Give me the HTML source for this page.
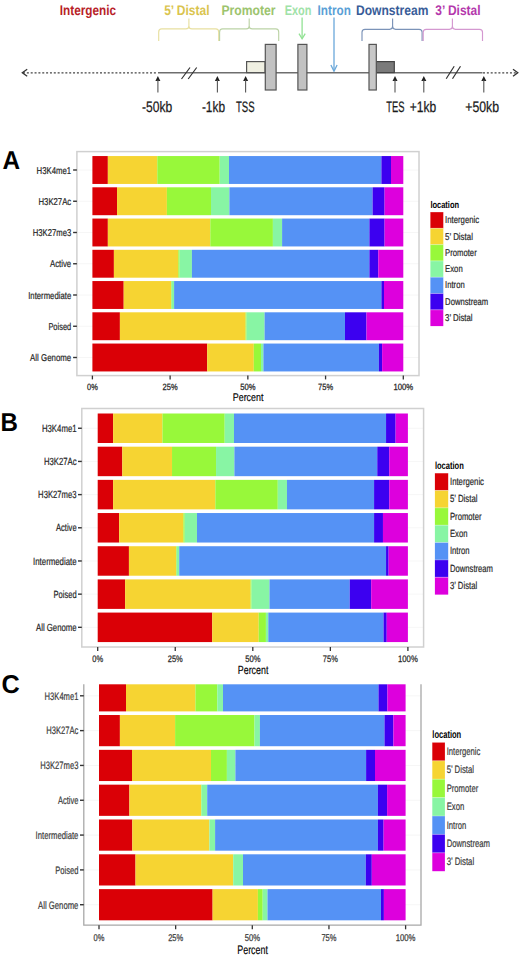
<!DOCTYPE html>
<html><head><meta charset="utf-8"><title>Genomic location distribution</title>
<style>
html,body{margin:0;padding:0;background:#fff;width:520px;height:956px;overflow:hidden;}
svg{display:block;font-family:"Liberation Sans", sans-serif;text-rendering:geometricPrecision;}
</style></head>
<body>
<svg width="520" height="956" viewBox="0 0 520 956">
<rect width="520" height="956" fill="#fff"/>
<text x="59.75" y="14.9" font-size="14" text-anchor="start" fill="#B81E28" font-weight="bold" textLength="56.25" lengthAdjust="spacingAndGlyphs">Intergenic</text>
<text x="164.2" y="14.9" font-size="14" text-anchor="start" fill="#DAC44E" font-weight="bold" textLength="45.3" lengthAdjust="spacingAndGlyphs">5&#8217; Distal</text>
<text x="221.5" y="14.9" font-size="14" text-anchor="start" fill="#9CC46E" font-weight="bold" textLength="54" lengthAdjust="spacingAndGlyphs">Promoter</text>
<text x="284.7" y="14.9" font-size="14" text-anchor="start" fill="#A0E2A8" font-weight="bold" textLength="26.8" lengthAdjust="spacingAndGlyphs">Exon</text>
<text x="317.6" y="14.9" font-size="14" text-anchor="start" fill="#5A9FD6" font-weight="bold" textLength="33.2" lengthAdjust="spacingAndGlyphs">Intron</text>
<text x="356" y="14.9" font-size="14" text-anchor="start" fill="#385C98" font-weight="bold" textLength="72.4" lengthAdjust="spacingAndGlyphs">Downstream</text>
<text x="435.3" y="14.9" font-size="14" text-anchor="start" fill="#B438AC" font-weight="bold" textLength="45.3" lengthAdjust="spacingAndGlyphs">3&#8217; Distal</text>
<path d="M158.7 41V31.9Q158.7 28.9 161.7 28.9H185.9Q188.9 28.9 188.9 25.9V18.5M188.9 25.9Q188.9 28.9 191.9 28.9H215.7Q218.7 28.9 218.7 31.9V41" fill="none" stroke="#E8E0A0" stroke-width="1.15"/>
<path d="M219.6 41V31.9Q219.6 28.9 222.6 28.9H246.2Q249.2 28.9 249.2 25.9V18.5M249.2 25.9Q249.2 28.9 252.2 28.9H275.7Q278.7 28.9 278.7 31.9V41" fill="none" stroke="#BCD3A6" stroke-width="1.15"/>
<path d="M362 41V32.3Q362 29.3 365 29.3H389.6Q392.6 29.3 392.6 26.3V18.5M392.6 26.3Q392.6 29.3 395.6 29.3H419.1Q422.1 29.3 422.1 32.3V41" fill="none" stroke="#7B93B8" stroke-width="1.15"/>
<path d="M423.2 41V32.3Q423.2 29.3 426.2 29.3H449.4Q452.4 29.3 452.4 26.3V18.5M452.4 26.3Q452.4 29.3 455.4 29.3H479.5Q482.5 29.3 482.5 32.3V41" fill="none" stroke="#D498D0" stroke-width="1.15"/>
<line x1="302.1" y1="17.5" x2="302.1" y2="38.5" stroke="#92E294" stroke-width="1.3"/>
<path d="M299 33.6L302.1 38.8L305.2 33.6" fill="none" stroke="#92E294" stroke-width="1.3"/>
<line x1="334" y1="17.5" x2="334" y2="71" stroke="#6AA8DA" stroke-width="1.3"/>
<path d="M330.9 65L334 71.3L337.1 65" fill="none" stroke="#6AA8DA" stroke-width="1.3"/>
<line x1="23" y1="72.8" x2="157" y2="72.8" stroke="#444" stroke-width="1.3" stroke-dasharray="2 1.85"/>
<path d="M27.2 69.3L22.3 72.8L27.2 76.3" fill="none" stroke="#333" stroke-width="1.3"/>
<line x1="483" y1="72.8" x2="516.5" y2="72.8" stroke="#444" stroke-width="1.3" stroke-dasharray="2 1.85"/>
<path d="M513 69.3L517.8 72.8L513 76.3" fill="none" stroke="#333" stroke-width="1.3"/>
<line x1="158" y1="72.7" x2="482.5" y2="72.7" stroke="#6E6E6E" stroke-width="1.4"/>
<path d="M181.5 79L190 67.5M188.2 79L196.7 67.5" stroke="#333" stroke-width="1.2" fill="none"/>
<path d="M446.2 78.8L454.2 66.2M452.5 78.8L460.5 66.2" stroke="#333" stroke-width="1.2" fill="none"/>
<rect x="246.6" y="61.6" width="18.4" height="11" fill="#F0F0E2" stroke="#555" stroke-width="1.2"/>
<rect x="265.3" y="44.4" width="10.8" height="45.6" fill="#C2C2C2" stroke="#555" stroke-width="1.2"/>
<rect x="297.9" y="44.4" width="9" height="45.6" fill="#C2C2C2" stroke="#555" stroke-width="1.2"/>
<rect x="376.3" y="61.6" width="18" height="11" fill="#7A7A7A" stroke="#444" stroke-width="1.2"/>
<rect x="369" y="44.4" width="7.3" height="45.6" fill="#C8C8C8" stroke="#555" stroke-width="1.2"/>
<path d="M157.9 76.1L155.4 80.9H160.4Z" fill="#222"/><line x1="157.9" y1="80" x2="157.9" y2="92.6" stroke="#555" stroke-width="1.1"/>
<path d="M217.4 76.1L214.9 80.9H219.9Z" fill="#222"/><line x1="217.4" y1="80" x2="217.4" y2="92.6" stroke="#555" stroke-width="1.1"/>
<path d="M245.6 76.1L243.1 80.9H248.1Z" fill="#222"/><line x1="245.6" y1="80" x2="245.6" y2="92.6" stroke="#555" stroke-width="1.1"/>
<path d="M395 76.1L392.5 80.9H397.5Z" fill="#222"/><line x1="395" y1="80" x2="395" y2="92.6" stroke="#555" stroke-width="1.1"/>
<path d="M423.8 76.1L421.3 80.9H426.3Z" fill="#222"/><line x1="423.8" y1="80" x2="423.8" y2="92.6" stroke="#555" stroke-width="1.1"/>
<path d="M483.8 76.1L481.3 80.9H486.3Z" fill="#222"/><line x1="483.8" y1="80" x2="483.8" y2="92.6" stroke="#555" stroke-width="1.1"/>
<text x="142" y="111.7" font-size="15.2" text-anchor="start" fill="#1a1a1a" stroke="#1a1a1a" stroke-width="0.25" textLength="30.2" lengthAdjust="spacingAndGlyphs">-50kb</text>
<text x="201.9" y="111.7" font-size="15.2" text-anchor="start" fill="#1a1a1a" stroke="#1a1a1a" stroke-width="0.25" textLength="23.1" lengthAdjust="spacingAndGlyphs">-1kb</text>
<text x="236" y="111.7" font-size="15.2" text-anchor="start" fill="#1a1a1a" stroke="#1a1a1a" stroke-width="0.25" textLength="18.6" lengthAdjust="spacingAndGlyphs">TSS</text>
<text x="386.2" y="111.7" font-size="15.2" text-anchor="start" fill="#1a1a1a" stroke="#1a1a1a" stroke-width="0.25" textLength="18.3" lengthAdjust="spacingAndGlyphs">TES</text>
<text x="409.8" y="111.7" font-size="15.2" text-anchor="start" fill="#1a1a1a" stroke="#1a1a1a" stroke-width="0.25" textLength="26.4" lengthAdjust="spacingAndGlyphs">+1kb</text>
<text x="465.3" y="111.7" font-size="15.2" text-anchor="start" fill="#1a1a1a" stroke="#1a1a1a" stroke-width="0.25" textLength="33.8" lengthAdjust="spacingAndGlyphs">+50kb</text>
<rect x="76.9" y="151.6" width="342.1" height="224" fill="#fff"/>
<line x1="76.9" y1="170" x2="419" y2="170" stroke="#f4f4f4" stroke-width="0.8"/>
<line x1="76.9" y1="201.25" x2="419" y2="201.25" stroke="#f4f4f4" stroke-width="0.8"/>
<line x1="76.9" y1="232.5" x2="419" y2="232.5" stroke="#f4f4f4" stroke-width="0.8"/>
<line x1="76.9" y1="263.75" x2="419" y2="263.75" stroke="#f4f4f4" stroke-width="0.8"/>
<line x1="76.9" y1="295" x2="419" y2="295" stroke="#f4f4f4" stroke-width="0.8"/>
<line x1="76.9" y1="326.25" x2="419" y2="326.25" stroke="#f4f4f4" stroke-width="0.8"/>
<line x1="76.9" y1="357.5" x2="419" y2="357.5" stroke="#f4f4f4" stroke-width="0.8"/>
<rect x="92.4" y="156.05" width="15.45" height="27.9" fill="#DA0006"/>
<rect x="107.85" y="156.05" width="49.45" height="27.9" fill="#F6D432"/>
<rect x="157.3" y="156.05" width="62.4" height="27.9" fill="#98F83A"/>
<rect x="219.7" y="156.05" width="9.3" height="27.9" fill="#88F5A4"/>
<rect x="229" y="156.05" width="152.4" height="27.9" fill="#5592F5"/>
<rect x="381.4" y="156.05" width="9.6" height="27.9" fill="#3C00F0"/>
<rect x="391" y="156.05" width="12.3" height="27.9" fill="#DD00DD"/>
<rect x="92.4" y="187.3" width="24.65" height="27.9" fill="#DA0006"/>
<rect x="117.05" y="187.3" width="49.85" height="27.9" fill="#F6D432"/>
<rect x="166.9" y="187.3" width="44.1" height="27.9" fill="#98F83A"/>
<rect x="211" y="187.3" width="18.4" height="27.9" fill="#88F5A4"/>
<rect x="229.4" y="187.3" width="143.2" height="27.9" fill="#5592F5"/>
<rect x="372.6" y="187.3" width="12" height="27.9" fill="#3C00F0"/>
<rect x="384.6" y="187.3" width="18.7" height="27.9" fill="#DD00DD"/>
<rect x="92.4" y="218.55" width="15.45" height="27.9" fill="#DA0006"/>
<rect x="107.85" y="218.55" width="102.45" height="27.9" fill="#F6D432"/>
<rect x="210.3" y="218.55" width="62.6" height="27.9" fill="#98F83A"/>
<rect x="272.9" y="218.55" width="9.2" height="27.9" fill="#88F5A4"/>
<rect x="282.1" y="218.55" width="87.3" height="27.9" fill="#5592F5"/>
<rect x="369.4" y="218.55" width="15.2" height="27.9" fill="#3C00F0"/>
<rect x="384.6" y="218.55" width="18.7" height="27.9" fill="#DD00DD"/>
<rect x="92.4" y="249.8" width="21.5" height="27.9" fill="#DA0006"/>
<rect x="113.9" y="249.8" width="64.4" height="27.9" fill="#F6D432"/>
<rect x="178.3" y="249.8" width="1.3" height="27.9" fill="#98F83A"/>
<rect x="179.6" y="249.8" width="12.3" height="27.9" fill="#88F5A4"/>
<rect x="191.9" y="249.8" width="177.5" height="27.9" fill="#5592F5"/>
<rect x="369.4" y="249.8" width="8.9" height="27.9" fill="#3C00F0"/>
<rect x="378.3" y="249.8" width="25" height="27.9" fill="#DD00DD"/>
<rect x="92.4" y="281.05" width="31.3" height="27.9" fill="#DA0006"/>
<rect x="123.7" y="281.05" width="47.3" height="27.9" fill="#F6D432"/>
<rect x="171" y="281.05" width="0.6" height="27.9" fill="#98F83A"/>
<rect x="171.6" y="281.05" width="2.5" height="27.9" fill="#88F5A4"/>
<rect x="174.1" y="281.05" width="207.3" height="27.9" fill="#5592F5"/>
<rect x="381.4" y="281.05" width="2.6" height="27.9" fill="#3C00F0"/>
<rect x="384" y="281.05" width="19.3" height="27.9" fill="#DD00DD"/>
<rect x="92.4" y="312.3" width="27.5" height="27.9" fill="#DA0006"/>
<rect x="119.9" y="312.3" width="125.7" height="27.9" fill="#F6D432"/>
<rect x="245.6" y="312.3" width="1" height="27.9" fill="#98F83A"/>
<rect x="246.6" y="312.3" width="18" height="27.9" fill="#88F5A4"/>
<rect x="264.6" y="312.3" width="80.4" height="27.9" fill="#5592F5"/>
<rect x="345" y="312.3" width="21.5" height="27.9" fill="#3C00F0"/>
<rect x="366.5" y="312.3" width="36.8" height="27.9" fill="#DD00DD"/>
<rect x="92.4" y="343.55" width="114.8" height="27.9" fill="#DA0006"/>
<rect x="207.2" y="343.55" width="46.6" height="27.9" fill="#F6D432"/>
<rect x="253.8" y="343.55" width="7.2" height="27.9" fill="#98F83A"/>
<rect x="261" y="343.55" width="2.4" height="27.9" fill="#88F5A4"/>
<rect x="263.4" y="343.55" width="115.5" height="27.9" fill="#5592F5"/>
<rect x="378.9" y="343.55" width="3.2" height="27.9" fill="#3C00F0"/>
<rect x="382.1" y="343.55" width="21.2" height="27.9" fill="#DD00DD"/>
<rect x="76.9" y="151.6" width="342.1" height="224" fill="none" stroke="#d0d0d0" stroke-width="1.5"/>
<line x1="73.1" y1="170" x2="76.9" y2="170" stroke="#333" stroke-width="1.4"/>
<text x="36.6" y="173.5" font-size="9.9" text-anchor="start" fill="#262626" stroke="#262626" stroke-width="0.2" textLength="34.6" lengthAdjust="spacingAndGlyphs">H3K4me1</text>
<line x1="73.1" y1="201.25" x2="76.9" y2="201.25" stroke="#333" stroke-width="1.4"/>
<text x="38.5" y="204.75" font-size="9.9" text-anchor="start" fill="#262626" stroke="#262626" stroke-width="0.2" textLength="32.7" lengthAdjust="spacingAndGlyphs">H3K27Ac</text>
<line x1="73.1" y1="232.5" x2="76.9" y2="232.5" stroke="#333" stroke-width="1.4"/>
<text x="32.8" y="236" font-size="9.9" text-anchor="start" fill="#262626" stroke="#262626" stroke-width="0.2" textLength="38.4" lengthAdjust="spacingAndGlyphs">H3K27me3</text>
<line x1="73.1" y1="263.75" x2="76.9" y2="263.75" stroke="#333" stroke-width="1.4"/>
<text x="50" y="267.25" font-size="9.9" text-anchor="start" fill="#262626" stroke="#262626" stroke-width="0.2" textLength="21.2" lengthAdjust="spacingAndGlyphs">Active</text>
<line x1="73.1" y1="295" x2="76.9" y2="295" stroke="#333" stroke-width="1.4"/>
<text x="28.2" y="298.5" font-size="9.9" text-anchor="start" fill="#262626" stroke="#262626" stroke-width="0.2" textLength="43" lengthAdjust="spacingAndGlyphs">Intermediate</text>
<line x1="73.1" y1="326.25" x2="76.9" y2="326.25" stroke="#333" stroke-width="1.4"/>
<text x="48.4" y="329.75" font-size="9.9" text-anchor="start" fill="#262626" stroke="#262626" stroke-width="0.2" textLength="22.8" lengthAdjust="spacingAndGlyphs">Poised</text>
<line x1="73.1" y1="357.5" x2="76.9" y2="357.5" stroke="#333" stroke-width="1.4"/>
<text x="30.1" y="361" font-size="9.9" text-anchor="start" fill="#262626" stroke="#262626" stroke-width="0.2" textLength="41.1" lengthAdjust="spacingAndGlyphs">All Genome</text>
<line x1="92.4" y1="375.6" x2="92.4" y2="379.4" stroke="#333" stroke-width="1.3"/>
<text x="87" y="390.3" font-size="9" text-anchor="start" fill="#262626" stroke="#262626" stroke-width="0.25" textLength="10.8" lengthAdjust="spacingAndGlyphs">0%</text>
<line x1="170.12" y1="375.6" x2="170.12" y2="379.4" stroke="#333" stroke-width="1.3"/>
<text x="162.62" y="390.3" font-size="9" text-anchor="start" fill="#262626" stroke="#262626" stroke-width="0.25" textLength="15" lengthAdjust="spacingAndGlyphs">25%</text>
<line x1="247.85" y1="375.6" x2="247.85" y2="379.4" stroke="#333" stroke-width="1.3"/>
<text x="240.2" y="390.3" font-size="9" text-anchor="start" fill="#262626" stroke="#262626" stroke-width="0.25" textLength="15.3" lengthAdjust="spacingAndGlyphs">50%</text>
<line x1="325.57" y1="375.6" x2="325.57" y2="379.4" stroke="#333" stroke-width="1.3"/>
<text x="318.07" y="390.3" font-size="9" text-anchor="start" fill="#262626" stroke="#262626" stroke-width="0.25" textLength="15" lengthAdjust="spacingAndGlyphs">75%</text>
<line x1="403.3" y1="375.6" x2="403.3" y2="379.4" stroke="#333" stroke-width="1.3"/>
<text x="393.4" y="390.3" font-size="9" text-anchor="start" fill="#262626" stroke="#262626" stroke-width="0.25" textLength="19.8" lengthAdjust="spacingAndGlyphs">100%</text>
<text x="232.8" y="401.2" font-size="11.2" text-anchor="start" fill="#000" stroke="#000" stroke-width="0.15" textLength="30.6" lengthAdjust="spacingAndGlyphs">Percent</text>
<text x="430.4" y="208" font-size="9.8" text-anchor="start" fill="#000" font-weight="bold" textLength="28.7" lengthAdjust="spacingAndGlyphs">location</text>
<rect x="430.4" y="212" width="12.9" height="16.3" fill="#DA0006"/>
<rect x="430.4" y="228.3" width="12.9" height="16.3" fill="#F6D432"/>
<rect x="430.4" y="244.6" width="12.9" height="16.3" fill="#98F83A"/>
<rect x="430.4" y="260.9" width="12.9" height="16.3" fill="#88F5A4"/>
<rect x="430.4" y="277.2" width="12.9" height="16.3" fill="#5592F5"/>
<rect x="430.4" y="293.5" width="12.9" height="16.3" fill="#3C00F0"/>
<rect x="430.4" y="309.8" width="12.9" height="16.3" fill="#DD00DD"/>
<line x1="430.4" y1="212" x2="443.3" y2="212" stroke="#fff" stroke-width="0.5" stroke-opacity="0.6"/>
<text x="445.1" y="223.25" font-size="9.9" text-anchor="start" fill="#262626" stroke="#262626" stroke-width="0.2" textLength="34" lengthAdjust="spacingAndGlyphs">Intergenic</text>
<line x1="430.4" y1="228.3" x2="443.3" y2="228.3" stroke="#fff" stroke-width="0.5" stroke-opacity="0.6"/>
<text x="445.1" y="239.55" font-size="9.9" text-anchor="start" fill="#262626" stroke="#262626" stroke-width="0.2" textLength="27.8" lengthAdjust="spacingAndGlyphs">5&#8217; Distal</text>
<line x1="430.4" y1="244.6" x2="443.3" y2="244.6" stroke="#fff" stroke-width="0.5" stroke-opacity="0.6"/>
<text x="445.1" y="255.85" font-size="9.9" text-anchor="start" fill="#262626" stroke="#262626" stroke-width="0.2" textLength="31.6" lengthAdjust="spacingAndGlyphs">Promoter</text>
<line x1="430.4" y1="260.9" x2="443.3" y2="260.9" stroke="#fff" stroke-width="0.5" stroke-opacity="0.6"/>
<text x="445.1" y="272.15" font-size="9.9" text-anchor="start" fill="#262626" stroke="#262626" stroke-width="0.2" textLength="17.6" lengthAdjust="spacingAndGlyphs">Exon</text>
<line x1="430.4" y1="277.2" x2="443.3" y2="277.2" stroke="#fff" stroke-width="0.5" stroke-opacity="0.6"/>
<text x="445.1" y="288.45" font-size="9.9" text-anchor="start" fill="#262626" stroke="#262626" stroke-width="0.2" textLength="19.6" lengthAdjust="spacingAndGlyphs">Intron</text>
<line x1="430.4" y1="293.5" x2="443.3" y2="293.5" stroke="#fff" stroke-width="0.5" stroke-opacity="0.6"/>
<text x="445.1" y="304.75" font-size="9.9" text-anchor="start" fill="#262626" stroke="#262626" stroke-width="0.2" textLength="43" lengthAdjust="spacingAndGlyphs">Downstream</text>
<line x1="430.4" y1="309.8" x2="443.3" y2="309.8" stroke="#fff" stroke-width="0.5" stroke-opacity="0.6"/>
<text x="445.1" y="321.05" font-size="9.9" text-anchor="start" fill="#262626" stroke="#262626" stroke-width="0.2" textLength="27.5" lengthAdjust="spacingAndGlyphs">3&#8217; Distal</text>
<text x="2.4" y="168.8" font-size="25.8" text-anchor="start" fill="#000" font-weight="bold" textLength="17.6" lengthAdjust="spacingAndGlyphs">A</text>
<rect x="81.8" y="408.5" width="341.8" height="238.5" fill="#fff"/>
<line x1="81.8" y1="428.25" x2="423.6" y2="428.25" stroke="#f4f4f4" stroke-width="0.8"/>
<line x1="81.8" y1="461.43" x2="423.6" y2="461.43" stroke="#f4f4f4" stroke-width="0.8"/>
<line x1="81.8" y1="494.61" x2="423.6" y2="494.61" stroke="#f4f4f4" stroke-width="0.8"/>
<line x1="81.8" y1="527.79" x2="423.6" y2="527.79" stroke="#f4f4f4" stroke-width="0.8"/>
<line x1="81.8" y1="560.97" x2="423.6" y2="560.97" stroke="#f4f4f4" stroke-width="0.8"/>
<line x1="81.8" y1="594.15" x2="423.6" y2="594.15" stroke="#f4f4f4" stroke-width="0.8"/>
<line x1="81.8" y1="627.33" x2="423.6" y2="627.33" stroke="#f4f4f4" stroke-width="0.8"/>
<rect x="97.7" y="413.5" width="15.42" height="29.5" fill="#DA0006"/>
<rect x="113.12" y="413.5" width="49.34" height="29.5" fill="#F6D432"/>
<rect x="162.45" y="413.5" width="62.26" height="29.5" fill="#98F83A"/>
<rect x="224.71" y="413.5" width="9.28" height="29.5" fill="#88F5A4"/>
<rect x="233.99" y="413.5" width="152.06" height="29.5" fill="#5592F5"/>
<rect x="386.05" y="413.5" width="9.58" height="29.5" fill="#3C00F0"/>
<rect x="395.63" y="413.5" width="12.27" height="29.5" fill="#DD00DD"/>
<rect x="97.7" y="446.68" width="24.59" height="29.5" fill="#DA0006"/>
<rect x="122.29" y="446.68" width="49.74" height="29.5" fill="#F6D432"/>
<rect x="172.03" y="446.68" width="44" height="29.5" fill="#98F83A"/>
<rect x="216.03" y="446.68" width="18.36" height="29.5" fill="#88F5A4"/>
<rect x="234.39" y="446.68" width="142.88" height="29.5" fill="#5592F5"/>
<rect x="377.27" y="446.68" width="11.97" height="29.5" fill="#3C00F0"/>
<rect x="389.24" y="446.68" width="18.66" height="29.5" fill="#DD00DD"/>
<rect x="97.7" y="479.86" width="15.42" height="29.5" fill="#DA0006"/>
<rect x="113.12" y="479.86" width="102.22" height="29.5" fill="#F6D432"/>
<rect x="215.33" y="479.86" width="62.46" height="29.5" fill="#98F83A"/>
<rect x="277.79" y="479.86" width="9.18" height="29.5" fill="#88F5A4"/>
<rect x="286.97" y="479.86" width="87.1" height="29.5" fill="#5592F5"/>
<rect x="374.08" y="479.86" width="15.17" height="29.5" fill="#3C00F0"/>
<rect x="389.24" y="479.86" width="18.66" height="29.5" fill="#DD00DD"/>
<rect x="97.7" y="513.04" width="21.45" height="29.5" fill="#DA0006"/>
<rect x="119.15" y="513.04" width="64.26" height="29.5" fill="#F6D432"/>
<rect x="183.41" y="513.04" width="1.3" height="29.5" fill="#98F83A"/>
<rect x="184.7" y="513.04" width="12.27" height="29.5" fill="#88F5A4"/>
<rect x="196.98" y="513.04" width="177.1" height="29.5" fill="#5592F5"/>
<rect x="374.08" y="513.04" width="8.88" height="29.5" fill="#3C00F0"/>
<rect x="382.96" y="513.04" width="24.94" height="29.5" fill="#DD00DD"/>
<rect x="97.7" y="546.22" width="31.23" height="29.5" fill="#DA0006"/>
<rect x="128.93" y="546.22" width="47.19" height="29.5" fill="#F6D432"/>
<rect x="176.12" y="546.22" width="0.6" height="29.5" fill="#98F83A"/>
<rect x="176.72" y="546.22" width="2.49" height="29.5" fill="#88F5A4"/>
<rect x="179.22" y="546.22" width="206.83" height="29.5" fill="#5592F5"/>
<rect x="386.05" y="546.22" width="2.59" height="29.5" fill="#3C00F0"/>
<rect x="388.64" y="546.22" width="19.26" height="29.5" fill="#DD00DD"/>
<rect x="97.7" y="579.4" width="27.44" height="29.5" fill="#DA0006"/>
<rect x="125.14" y="579.4" width="125.42" height="29.5" fill="#F6D432"/>
<rect x="250.56" y="579.4" width="1" height="29.5" fill="#98F83A"/>
<rect x="251.55" y="579.4" width="17.96" height="29.5" fill="#88F5A4"/>
<rect x="269.51" y="579.4" width="80.22" height="29.5" fill="#5592F5"/>
<rect x="349.73" y="579.4" width="21.45" height="29.5" fill="#3C00F0"/>
<rect x="371.18" y="579.4" width="36.72" height="29.5" fill="#DD00DD"/>
<rect x="97.7" y="612.58" width="114.54" height="29.5" fill="#DA0006"/>
<rect x="212.24" y="612.58" width="46.5" height="29.5" fill="#F6D432"/>
<rect x="258.74" y="612.58" width="7.18" height="29.5" fill="#98F83A"/>
<rect x="265.92" y="612.58" width="2.39" height="29.5" fill="#88F5A4"/>
<rect x="268.31" y="612.58" width="115.24" height="29.5" fill="#5592F5"/>
<rect x="383.55" y="612.58" width="3.19" height="29.5" fill="#3C00F0"/>
<rect x="386.75" y="612.58" width="21.15" height="29.5" fill="#DD00DD"/>
<rect x="81.8" y="408.5" width="341.8" height="238.5" fill="none" stroke="#d0d0d0" stroke-width="1.5"/>
<line x1="78" y1="428.25" x2="81.8" y2="428.25" stroke="#333" stroke-width="1.4"/>
<text x="41.9" y="431.93" font-size="10.4" text-anchor="start" fill="#262626" stroke="#262626" stroke-width="0.2" textLength="34.7" lengthAdjust="spacingAndGlyphs">H3K4me1</text>
<line x1="78" y1="461.43" x2="81.8" y2="461.43" stroke="#333" stroke-width="1.4"/>
<text x="43.9" y="465.11" font-size="10.4" text-anchor="start" fill="#262626" stroke="#262626" stroke-width="0.2" textLength="32.7" lengthAdjust="spacingAndGlyphs">H3K27Ac</text>
<line x1="78" y1="494.61" x2="81.8" y2="494.61" stroke="#333" stroke-width="1.4"/>
<text x="38.1" y="498.29" font-size="10.4" text-anchor="start" fill="#262626" stroke="#262626" stroke-width="0.2" textLength="38.5" lengthAdjust="spacingAndGlyphs">H3K27me3</text>
<line x1="78" y1="527.79" x2="81.8" y2="527.79" stroke="#333" stroke-width="1.4"/>
<text x="56" y="531.46" font-size="10.4" text-anchor="start" fill="#262626" stroke="#262626" stroke-width="0.2" textLength="20.6" lengthAdjust="spacingAndGlyphs">Active</text>
<line x1="78" y1="560.97" x2="81.8" y2="560.97" stroke="#333" stroke-width="1.4"/>
<text x="33.1" y="564.64" font-size="10.4" text-anchor="start" fill="#262626" stroke="#262626" stroke-width="0.2" textLength="43.5" lengthAdjust="spacingAndGlyphs">Intermediate</text>
<line x1="78" y1="594.15" x2="81.8" y2="594.15" stroke="#333" stroke-width="1.4"/>
<text x="53.5" y="597.82" font-size="10.4" text-anchor="start" fill="#262626" stroke="#262626" stroke-width="0.2" textLength="23.1" lengthAdjust="spacingAndGlyphs">Poised</text>
<line x1="78" y1="627.33" x2="81.8" y2="627.33" stroke="#333" stroke-width="1.4"/>
<text x="36" y="631" font-size="10.4" text-anchor="start" fill="#262626" stroke="#262626" stroke-width="0.2" textLength="40.6" lengthAdjust="spacingAndGlyphs">All Genome</text>
<line x1="97.7" y1="647" x2="97.7" y2="650.99" stroke="#333" stroke-width="1.3"/>
<text x="92.3" y="662.2" font-size="9.45" text-anchor="start" fill="#262626" stroke="#262626" stroke-width="0.25" textLength="10.8" lengthAdjust="spacingAndGlyphs">0%</text>
<line x1="175.25" y1="647" x2="175.25" y2="650.99" stroke="#333" stroke-width="1.3"/>
<text x="167.75" y="662.2" font-size="9.45" text-anchor="start" fill="#262626" stroke="#262626" stroke-width="0.25" textLength="15" lengthAdjust="spacingAndGlyphs">25%</text>
<line x1="252.8" y1="647" x2="252.8" y2="650.99" stroke="#333" stroke-width="1.3"/>
<text x="245.15" y="662.2" font-size="9.45" text-anchor="start" fill="#262626" stroke="#262626" stroke-width="0.25" textLength="15.3" lengthAdjust="spacingAndGlyphs">50%</text>
<line x1="330.35" y1="647" x2="330.35" y2="650.99" stroke="#333" stroke-width="1.3"/>
<text x="322.85" y="662.2" font-size="9.45" text-anchor="start" fill="#262626" stroke="#262626" stroke-width="0.25" textLength="15" lengthAdjust="spacingAndGlyphs">75%</text>
<line x1="407.9" y1="647" x2="407.9" y2="650.99" stroke="#333" stroke-width="1.3"/>
<text x="398" y="662.2" font-size="9.45" text-anchor="start" fill="#262626" stroke="#262626" stroke-width="0.25" textLength="19.8" lengthAdjust="spacingAndGlyphs">100%</text>
<text x="237.8" y="674.3" font-size="11.76" text-anchor="start" fill="#000" stroke="#000" stroke-width="0.15" textLength="30.6" lengthAdjust="spacingAndGlyphs">Percent</text>
<text x="434.9" y="468.8" font-size="10.29" text-anchor="start" fill="#000" font-weight="bold" textLength="28.9" lengthAdjust="spacingAndGlyphs">location</text>
<rect x="434.9" y="473.1" width="13.3" height="17.36" fill="#DA0006"/>
<rect x="434.9" y="490.46" width="13.3" height="17.36" fill="#F6D432"/>
<rect x="434.9" y="507.82" width="13.3" height="17.36" fill="#98F83A"/>
<rect x="434.9" y="525.18" width="13.3" height="17.36" fill="#88F5A4"/>
<rect x="434.9" y="542.54" width="13.3" height="17.36" fill="#5592F5"/>
<rect x="434.9" y="559.9" width="13.3" height="17.36" fill="#3C00F0"/>
<rect x="434.9" y="577.26" width="13.3" height="17.36" fill="#DD00DD"/>
<line x1="434.9" y1="473.1" x2="448.2" y2="473.1" stroke="#fff" stroke-width="0.5" stroke-opacity="0.6"/>
<text x="450" y="485.04" font-size="10.4" text-anchor="start" fill="#262626" stroke="#262626" stroke-width="0.2" textLength="34" lengthAdjust="spacingAndGlyphs">Intergenic</text>
<line x1="434.9" y1="490.46" x2="448.2" y2="490.46" stroke="#fff" stroke-width="0.5" stroke-opacity="0.6"/>
<text x="450" y="502.4" font-size="10.4" text-anchor="start" fill="#262626" stroke="#262626" stroke-width="0.2" textLength="27.5" lengthAdjust="spacingAndGlyphs">5&#8217; Distal</text>
<line x1="434.9" y1="507.82" x2="448.2" y2="507.82" stroke="#fff" stroke-width="0.5" stroke-opacity="0.6"/>
<text x="450" y="519.75" font-size="10.4" text-anchor="start" fill="#262626" stroke="#262626" stroke-width="0.2" textLength="31.5" lengthAdjust="spacingAndGlyphs">Promoter</text>
<line x1="434.9" y1="525.18" x2="448.2" y2="525.18" stroke="#fff" stroke-width="0.5" stroke-opacity="0.6"/>
<text x="450" y="537.12" font-size="10.4" text-anchor="start" fill="#262626" stroke="#262626" stroke-width="0.2" textLength="17.5" lengthAdjust="spacingAndGlyphs">Exon</text>
<line x1="434.9" y1="542.54" x2="448.2" y2="542.54" stroke="#fff" stroke-width="0.5" stroke-opacity="0.6"/>
<text x="450" y="554.47" font-size="10.4" text-anchor="start" fill="#262626" stroke="#262626" stroke-width="0.2" textLength="19.5" lengthAdjust="spacingAndGlyphs">Intron</text>
<line x1="434.9" y1="559.9" x2="448.2" y2="559.9" stroke="#fff" stroke-width="0.5" stroke-opacity="0.6"/>
<text x="450" y="571.83" font-size="10.4" text-anchor="start" fill="#262626" stroke="#262626" stroke-width="0.2" textLength="43" lengthAdjust="spacingAndGlyphs">Downstream</text>
<line x1="434.9" y1="577.26" x2="448.2" y2="577.26" stroke="#fff" stroke-width="0.5" stroke-opacity="0.6"/>
<text x="450" y="589.19" font-size="10.4" text-anchor="start" fill="#262626" stroke="#262626" stroke-width="0.2" textLength="27.2" lengthAdjust="spacingAndGlyphs">3&#8217; Distal</text>
<text x="0.4" y="430.8" font-size="25.8" text-anchor="start" fill="#000" font-weight="bold" textLength="17.4" lengthAdjust="spacingAndGlyphs">B</text>
<rect x="83.8" y="684.2" width="337.2" height="241" fill="#fff"/>
<line x1="83.8" y1="695.8" x2="421" y2="695.8" stroke="#f4f4f4" stroke-width="0.8"/>
<line x1="83.8" y1="730.62" x2="421" y2="730.62" stroke="#f4f4f4" stroke-width="0.8"/>
<line x1="83.8" y1="765.44" x2="421" y2="765.44" stroke="#f4f4f4" stroke-width="0.8"/>
<line x1="83.8" y1="800.26" x2="421" y2="800.26" stroke="#f4f4f4" stroke-width="0.8"/>
<line x1="83.8" y1="835.08" x2="421" y2="835.08" stroke="#f4f4f4" stroke-width="0.8"/>
<line x1="83.8" y1="869.9" x2="421" y2="869.9" stroke="#f4f4f4" stroke-width="0.8"/>
<line x1="83.8" y1="904.72" x2="421" y2="904.72" stroke="#f4f4f4" stroke-width="0.8"/>
<rect x="99" y="684.3" width="27" height="27.1" fill="#DA0006"/>
<rect x="126" y="684.3" width="69.4" height="27.1" fill="#F6D432"/>
<rect x="195.4" y="684.3" width="21.9" height="27.1" fill="#98F83A"/>
<rect x="217.3" y="684.3" width="5.7" height="27.1" fill="#88F5A4"/>
<rect x="223" y="684.3" width="155.5" height="27.1" fill="#5592F5"/>
<rect x="378.5" y="684.3" width="8.9" height="27.1" fill="#3C00F0"/>
<rect x="387.4" y="684.3" width="18.2" height="27.1" fill="#DD00DD"/>
<rect x="99" y="715.02" width="20.9" height="31.2" fill="#DA0006"/>
<rect x="119.9" y="715.02" width="55.2" height="31.2" fill="#F6D432"/>
<rect x="175.1" y="715.02" width="79.4" height="31.2" fill="#98F83A"/>
<rect x="254.5" y="715.02" width="5.4" height="31.2" fill="#88F5A4"/>
<rect x="259.9" y="715.02" width="124.6" height="31.2" fill="#5592F5"/>
<rect x="384.5" y="715.02" width="8.9" height="31.2" fill="#3C00F0"/>
<rect x="393.4" y="715.02" width="12.2" height="31.2" fill="#DD00DD"/>
<rect x="99" y="749.84" width="33" height="31.2" fill="#DA0006"/>
<rect x="132" y="749.84" width="79" height="31.2" fill="#F6D432"/>
<rect x="211" y="749.84" width="15.9" height="31.2" fill="#98F83A"/>
<rect x="226.9" y="749.84" width="8.5" height="31.2" fill="#88F5A4"/>
<rect x="235.4" y="749.84" width="130.7" height="31.2" fill="#5592F5"/>
<rect x="366.1" y="749.84" width="8.9" height="31.2" fill="#3C00F0"/>
<rect x="375" y="749.84" width="30.6" height="31.2" fill="#DD00DD"/>
<rect x="99" y="784.66" width="30.4" height="31.2" fill="#DA0006"/>
<rect x="129.4" y="784.66" width="71.6" height="31.2" fill="#F6D432"/>
<rect x="201" y="784.66" width="0.5" height="31.2" fill="#98F83A"/>
<rect x="201.5" y="784.66" width="5.7" height="31.2" fill="#88F5A4"/>
<rect x="207.2" y="784.66" width="170.7" height="31.2" fill="#5592F5"/>
<rect x="377.9" y="784.66" width="9.2" height="31.2" fill="#3C00F0"/>
<rect x="387.1" y="784.66" width="18.5" height="31.2" fill="#DD00DD"/>
<rect x="99" y="819.48" width="33.3" height="31.2" fill="#DA0006"/>
<rect x="132.3" y="819.48" width="77.1" height="31.2" fill="#F6D432"/>
<rect x="209.4" y="819.48" width="5.7" height="31.2" fill="#88F5A4"/>
<rect x="215.1" y="819.48" width="162.8" height="31.2" fill="#5592F5"/>
<rect x="377.9" y="819.48" width="5.7" height="31.2" fill="#3C00F0"/>
<rect x="383.6" y="819.48" width="22" height="31.2" fill="#DD00DD"/>
<rect x="99" y="854.3" width="36.5" height="31.2" fill="#DA0006"/>
<rect x="135.5" y="854.3" width="97.7" height="31.2" fill="#F6D432"/>
<rect x="233.2" y="854.3" width="9.8" height="31.2" fill="#88F5A4"/>
<rect x="243" y="854.3" width="122.8" height="31.2" fill="#5592F5"/>
<rect x="365.8" y="854.3" width="6" height="31.2" fill="#3C00F0"/>
<rect x="371.8" y="854.3" width="33.8" height="31.2" fill="#DD00DD"/>
<rect x="99" y="889.12" width="113.6" height="31.2" fill="#DA0006"/>
<rect x="212.6" y="889.12" width="45.3" height="31.2" fill="#F6D432"/>
<rect x="257.9" y="889.12" width="4.8" height="31.2" fill="#98F83A"/>
<rect x="262.7" y="889.12" width="4.8" height="31.2" fill="#88F5A4"/>
<rect x="267.5" y="889.12" width="113.5" height="31.2" fill="#5592F5"/>
<rect x="381" y="889.12" width="2.9" height="31.2" fill="#3C00F0"/>
<rect x="383.9" y="889.12" width="21.7" height="31.2" fill="#DD00DD"/>
<path d="M83.8 684.2V925.2H421V684.2" fill="none" stroke="#a8a8a8" stroke-width="1.3"/>
<line x1="80" y1="695.8" x2="83.8" y2="695.8" stroke="#333" stroke-width="1.4"/>
<text x="44.6" y="699.62" font-size="10.79" text-anchor="start" fill="#3a3a3a" stroke="#3a3a3a" stroke-width="0.2" textLength="33.8" lengthAdjust="spacingAndGlyphs">H3K4me1</text>
<line x1="80" y1="730.62" x2="83.8" y2="730.62" stroke="#333" stroke-width="1.4"/>
<text x="46.3" y="734.44" font-size="10.79" text-anchor="start" fill="#3a3a3a" stroke="#3a3a3a" stroke-width="0.2" textLength="32.1" lengthAdjust="spacingAndGlyphs">H3K27Ac</text>
<line x1="80" y1="765.44" x2="83.8" y2="765.44" stroke="#333" stroke-width="1.4"/>
<text x="40.2" y="769.26" font-size="10.79" text-anchor="start" fill="#3a3a3a" stroke="#3a3a3a" stroke-width="0.2" textLength="38.2" lengthAdjust="spacingAndGlyphs">H3K27me3</text>
<line x1="80" y1="800.26" x2="83.8" y2="800.26" stroke="#333" stroke-width="1.4"/>
<text x="58.1" y="804.08" font-size="10.79" text-anchor="start" fill="#3a3a3a" stroke="#3a3a3a" stroke-width="0.2" textLength="20.3" lengthAdjust="spacingAndGlyphs">Active</text>
<line x1="80" y1="835.08" x2="83.8" y2="835.08" stroke="#333" stroke-width="1.4"/>
<text x="35.6" y="838.9" font-size="10.79" text-anchor="start" fill="#3a3a3a" stroke="#3a3a3a" stroke-width="0.2" textLength="42.8" lengthAdjust="spacingAndGlyphs">Intermediate</text>
<line x1="80" y1="869.9" x2="83.8" y2="869.9" stroke="#333" stroke-width="1.4"/>
<text x="55.3" y="873.72" font-size="10.79" text-anchor="start" fill="#3a3a3a" stroke="#3a3a3a" stroke-width="0.2" textLength="23.1" lengthAdjust="spacingAndGlyphs">Poised</text>
<line x1="80" y1="904.72" x2="83.8" y2="904.72" stroke="#333" stroke-width="1.4"/>
<text x="38.1" y="908.54" font-size="10.79" text-anchor="start" fill="#3a3a3a" stroke="#3a3a3a" stroke-width="0.2" textLength="40.3" lengthAdjust="spacingAndGlyphs">All Genome</text>
<line x1="99" y1="925.2" x2="99" y2="929.34" stroke="#333" stroke-width="1.3"/>
<text x="93.6" y="940.9" font-size="9.81" text-anchor="start" fill="#3a3a3a" stroke="#3a3a3a" stroke-width="0.25" textLength="10.8" lengthAdjust="spacingAndGlyphs">0%</text>
<line x1="175.65" y1="925.2" x2="175.65" y2="929.34" stroke="#333" stroke-width="1.3"/>
<text x="168.15" y="940.9" font-size="9.81" text-anchor="start" fill="#3a3a3a" stroke="#3a3a3a" stroke-width="0.25" textLength="15" lengthAdjust="spacingAndGlyphs">25%</text>
<line x1="252.3" y1="925.2" x2="252.3" y2="929.34" stroke="#333" stroke-width="1.3"/>
<text x="244.65" y="940.9" font-size="9.81" text-anchor="start" fill="#3a3a3a" stroke="#3a3a3a" stroke-width="0.25" textLength="15.3" lengthAdjust="spacingAndGlyphs">50%</text>
<line x1="328.95" y1="925.2" x2="328.95" y2="929.34" stroke="#333" stroke-width="1.3"/>
<text x="321.45" y="940.9" font-size="9.81" text-anchor="start" fill="#3a3a3a" stroke="#3a3a3a" stroke-width="0.25" textLength="15" lengthAdjust="spacingAndGlyphs">75%</text>
<line x1="405.6" y1="925.2" x2="405.6" y2="929.34" stroke="#333" stroke-width="1.3"/>
<text x="395.7" y="940.9" font-size="9.81" text-anchor="start" fill="#3a3a3a" stroke="#3a3a3a" stroke-width="0.25" textLength="19.8" lengthAdjust="spacingAndGlyphs">100%</text>
<text x="237.3" y="953.9" font-size="12.21" text-anchor="start" fill="#000" stroke="#000" stroke-width="0.15" textLength="30.6" lengthAdjust="spacingAndGlyphs">Percent</text>
<text x="432.3" y="738" font-size="10.68" text-anchor="start" fill="#000" font-weight="bold" textLength="28.9" lengthAdjust="spacingAndGlyphs">location</text>
<rect x="432.3" y="742.4" width="12.6" height="18.4" fill="#DA0006"/>
<rect x="432.3" y="760.8" width="12.6" height="18.4" fill="#F6D432"/>
<rect x="432.3" y="779.2" width="12.6" height="18.4" fill="#98F83A"/>
<rect x="432.3" y="797.6" width="12.6" height="18.4" fill="#88F5A4"/>
<rect x="432.3" y="816" width="12.6" height="18.4" fill="#5592F5"/>
<rect x="432.3" y="834.4" width="12.6" height="18.4" fill="#3C00F0"/>
<rect x="432.3" y="852.8" width="12.6" height="18.4" fill="#DD00DD"/>
<line x1="432.3" y1="742.4" x2="444.9" y2="742.4" stroke="#fff" stroke-width="0.5" stroke-opacity="0.6"/>
<text x="446.7" y="754.98" font-size="10.79" text-anchor="start" fill="#3a3a3a" stroke="#3a3a3a" stroke-width="0.2" textLength="33.6" lengthAdjust="spacingAndGlyphs">Intergenic</text>
<line x1="432.3" y1="760.8" x2="444.9" y2="760.8" stroke="#fff" stroke-width="0.5" stroke-opacity="0.6"/>
<text x="446.7" y="773.38" font-size="10.79" text-anchor="start" fill="#3a3a3a" stroke="#3a3a3a" stroke-width="0.2" textLength="27.3" lengthAdjust="spacingAndGlyphs">5&#8217; Distal</text>
<line x1="432.3" y1="779.2" x2="444.9" y2="779.2" stroke="#fff" stroke-width="0.5" stroke-opacity="0.6"/>
<text x="446.7" y="791.78" font-size="10.79" text-anchor="start" fill="#3a3a3a" stroke="#3a3a3a" stroke-width="0.2" textLength="31.5" lengthAdjust="spacingAndGlyphs">Promoter</text>
<line x1="432.3" y1="797.6" x2="444.9" y2="797.6" stroke="#fff" stroke-width="0.5" stroke-opacity="0.6"/>
<text x="446.7" y="810.18" font-size="10.79" text-anchor="start" fill="#3a3a3a" stroke="#3a3a3a" stroke-width="0.2" textLength="17.6" lengthAdjust="spacingAndGlyphs">Exon</text>
<line x1="432.3" y1="816" x2="444.9" y2="816" stroke="#fff" stroke-width="0.5" stroke-opacity="0.6"/>
<text x="446.7" y="828.58" font-size="10.79" text-anchor="start" fill="#3a3a3a" stroke="#3a3a3a" stroke-width="0.2" textLength="19.5" lengthAdjust="spacingAndGlyphs">Intron</text>
<line x1="432.3" y1="834.4" x2="444.9" y2="834.4" stroke="#fff" stroke-width="0.5" stroke-opacity="0.6"/>
<text x="446.7" y="846.98" font-size="10.79" text-anchor="start" fill="#3a3a3a" stroke="#3a3a3a" stroke-width="0.2" textLength="43.3" lengthAdjust="spacingAndGlyphs">Downstream</text>
<line x1="432.3" y1="852.8" x2="444.9" y2="852.8" stroke="#fff" stroke-width="0.5" stroke-opacity="0.6"/>
<text x="446.7" y="865.38" font-size="10.79" text-anchor="start" fill="#3a3a3a" stroke="#3a3a3a" stroke-width="0.2" textLength="27.5" lengthAdjust="spacingAndGlyphs">3&#8217; Distal</text>
<text x="1.6" y="693" font-size="25.8" text-anchor="start" fill="#000" font-weight="bold" textLength="18.2" lengthAdjust="spacingAndGlyphs">C</text>
</svg>
</body></html>
